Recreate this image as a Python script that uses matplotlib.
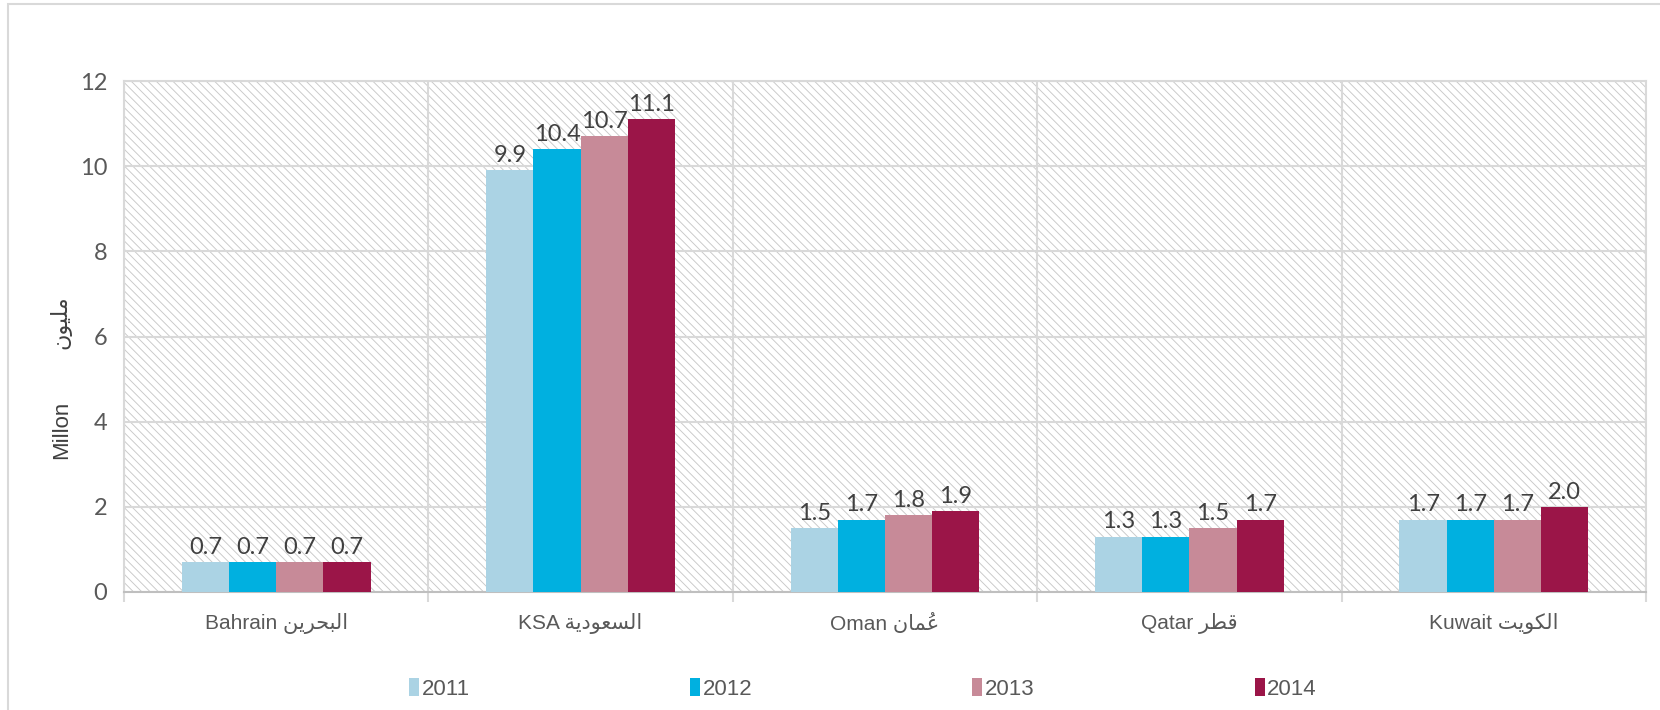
import matplotlib
matplotlib.use("Agg")
import matplotlib.pyplot as plt
from matplotlib.patches import Rectangle
import numpy as np

# ---- data ----
categories = ["Bahrain \ufee6\ufef3\ufeae\ufea4\ufe92\ufedf\ufe8d",      # البحرين
              "KSA \ufe94\ufef3\ufea9\ufeee\ufecc\ufeb4\ufedf\ufe8d",      # السعودية
              "Oman \ufee5\ufe8e\ufee4\u064f\ufecb",                       # عُمان
              "Qatar \ufeae\ufec4\ufed7",                                  # قطر
              "Kuwait \ufe96\ufef3\ufeee\ufedc\ufedf\ufe8d"]               # الكويت
years = ["2011", "2012", "2013", "2014"]
v2011 = [0.7, 9.9, 1.5, 1.3, 1.7]
v2012 = [0.7, 10.4, 1.7, 1.3, 1.7]
v2013 = [0.7, 10.7, 1.8, 1.5, 1.7]
v2014 = [0.7, 11.1, 1.9, 1.7, 2.0]
series = [v2011, v2012, v2013, v2014]
colors = ["#abd3e4", "#00b0e0", "#c78a98", "#9b1548"]
yticks = [0, 2, 4, 6, 8, 10, 12]
ylabel_en = "Millon"
ylabel_ar = "\ufee5\ufeee\ufef4\ufee0\ufee3"  # مليون

plt.rcParams["hatch.linewidth"] = 0.65

W, H = 1660, 710
fig = plt.figure(figsize=(W / 100, H / 100), dpi=100)
fig.patch.set_facecolor("white")

# outer chart border
fig.patches.append(Rectangle((8 / W, -0.05), 1.2, 1 - 4 / H + 0.05,
                             transform=fig.transFigure, fill=False,
                             edgecolor="#d9d9d9", linewidth=1.5, zorder=0))

ax = fig.add_axes([124 / W, 1 - 592 / H, (1646 - 124) / W, (592 - 81) / H])

# hatched background
ax.patch.set_facecolor("white")
ax.add_patch(Rectangle((0, 0), 1, 1, transform=ax.transAxes, facecolor="white",
                       edgecolor="#c8c8c8", hatch="\\\\\\\\", linewidth=0, zorder=0))

x = np.arange(len(categories))
bw = 0.155
offsets = [-1.5, -0.5, 0.5, 1.5]
label_font = ["Lato", "DejaVu Sans"]
bars = []
for s, c, off, yr in zip(series, colors, offsets, years):
    b = ax.bar(x + off * bw, s, width=bw, color=c, label=yr, zorder=3)
    bars.append(b)
    ax.bar_label(b, labels=[f"{v:.1f}" for v in s], padding=3,
                 fontsize=17, color="#404040", family=label_font)

ax.set_xlim(-0.5, len(categories) - 0.5)
ax.set_ylim(0, 12)
ax.set_yticks(yticks)
ax.set_yticklabels([str(t) for t in yticks], fontsize=17, color="#595959",
                   family=label_font)
ax.tick_params(axis="y", length=0, pad=12)

ax.set_xticks(x)
ax.set_xticklabels(categories, fontsize=15, color="#595959",
                   family=["Liberation Sans", "DejaVu Sans"])
ax.tick_params(axis="x", which="major", length=0, pad=15)
ax.set_xticks(np.arange(-0.5, len(categories), 1.0), minor=True)
ax.tick_params(axis="x", which="minor", length=7, color="#d9d9d9", width=1.5)

ax.grid(True, axis="y", which="major", color="#d9d9d9", linewidth=1.5, zorder=1)
ax.grid(True, axis="x", which="minor", color="#d9d9d9", linewidth=1.5, zorder=1)
ax.set_axisbelow(True)
for side in ["top", "right", "left"]:
    ax.spines[side].set_color("#d9d9d9")
    ax.spines[side].set_linewidth(1.5)
ax.spines["bottom"].set_color("#bfbfbf")
ax.spines["bottom"].set_linewidth(1.5)

# y-axis labels
fig.text(62 / W, 1 - 430 / H, ylabel_en, rotation=90, ha="center", va="center",
         fontsize=16, color="#404040", family=["Liberation Sans", "DejaVu Sans"])
fig.text(60 / W, 1 - 322 / H, ylabel_ar, rotation=90, ha="center", va="center",
         fontsize=16, color="#404040", family=["DejaVu Sans"])

leg = fig.legend(handles=bars, labels=years, loc="center", ncol=4,
                 bbox_to_anchor=(863 / W, 1 - 689 / H), frameon=False,
                 prop={"family": ["Liberation Sans"], "size": 16},
                 handlelength=0.45, handleheight=0.85, handletextpad=0.12,
                 columnspacing=9.9, labelcolor="#595959")

fig.savefig("out.png", dpi=100, facecolor="white")
